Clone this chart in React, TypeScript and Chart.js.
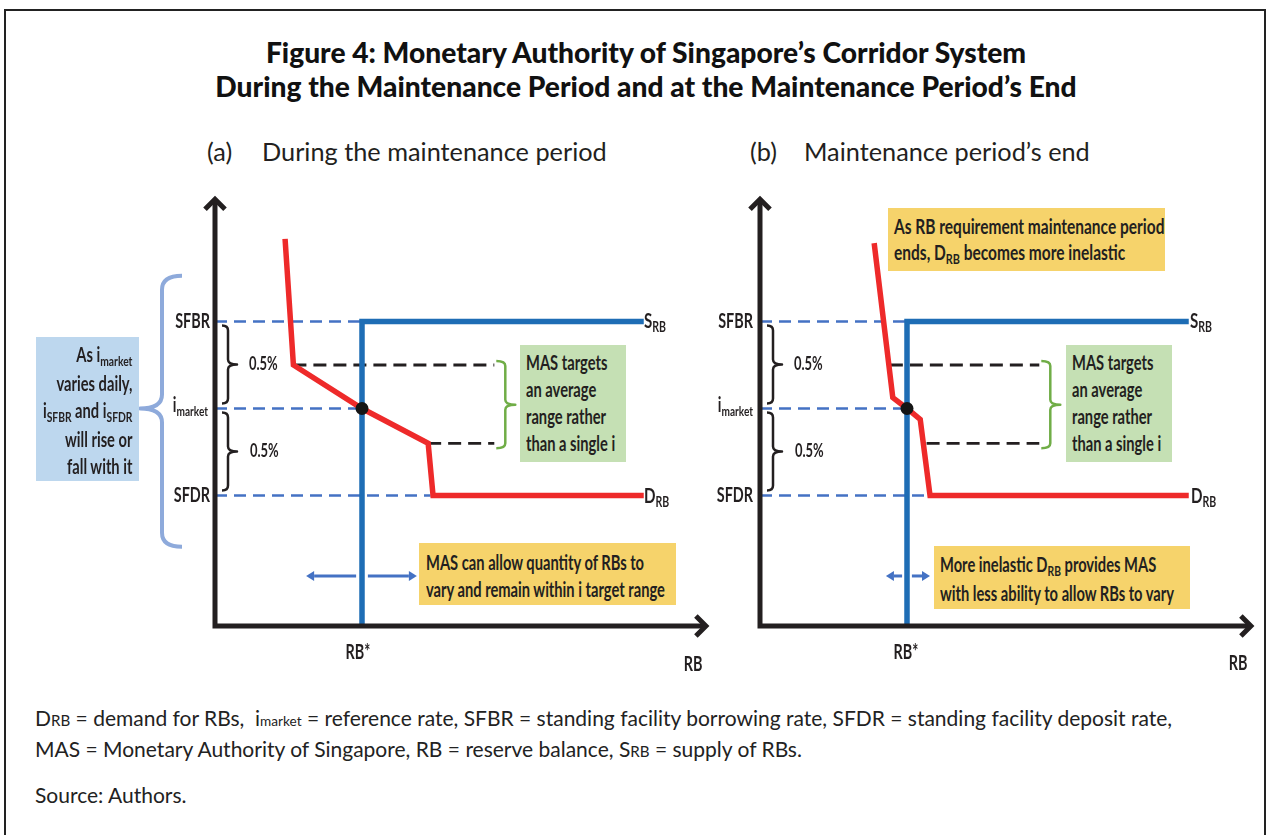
import React, { useEffect, useRef } from "react";
import { Chart, registerables } from "chart.js";
Chart.register(...registerables);

// ---------- data (diagram units: RB quantity 0..100, interest rate 0..100) ----------
const xLimits = [0, 100];
const yLimits = [0, 100];
const rateLabels = ["SFBR", "imarket", "SFDR"];
const rateValues = [70, 50, 30];
const targetBand = [60, 42];
const rbStar = 30;
const supplyX = [30, 30, 87.5];
const supplyY = [0, 70, 70];
const demandDuringX = [14.3, 16, 30, 43.5, 44.5, 87.5];
const demandDuringY = [89, 60, 50, 42, 30, 30];
const demandEndX = [23.3, 27.1, 30, 32.7, 34.7, 87.5];
const demandEndY = [88, 52.5, 50, 47.5, 30, 30];
const targetStartDuring = [16, 43.5];
const targetStartEnd = [26.5, 34];
const targetEndX = 57;
const rateDashEndDuring = [30, 30, 44];
const rateDashEndEnd = [30, 30, 34.7];
const rbArrowY = 11.5;
const rbArrowsDuring = [18.6, 28.8, 31.2, 41.2];
const rbArrowsEnd = [25.7, 29, 31, 34.7];
const imarketSwing = [80.5, 18.2];

// ---------- style ----------
const INK = "#231f20";
const RED = "#ee2a2a";
const BLUE = "#1e6db5";
const DASHBLUE = "#4472c4";
const LATO = 'Lato, "Open Sans", sans-serif';
const SQ = 0.72; // horizontal squeeze imitating a condensed face
const WT = 700;

function brace(ctx: CanvasRenderingContext2D, x0: number, xm: number, x1: number, yT: number, yM: number, yB: number, r: number) {
  ctx.beginPath();
  ctx.moveTo(x0, yT);
  ctx.quadraticCurveTo(xm, yT, xm, yT + r);
  ctx.lineTo(xm, yM - r);
  ctx.quadraticCurveTo(xm, yM, x1, yM);
  ctx.quadraticCurveTo(xm, yM, xm, yM + r);
  ctx.lineTo(xm, yB - r);
  ctx.quadraticCurveTo(xm, yB, x0, yB);
  ctx.stroke();
}

function arrowLine(ctx: CanvasRenderingContext2D, xs: number, xe: number, y: number) {
  const dir = Math.sign(xe - xs);
  const hl = 8;
  ctx.beginPath();
  ctx.moveTo(xs, y);
  ctx.lineTo(xe - dir * hl, y);
  ctx.stroke();
  ctx.beginPath();
  ctx.moveTo(xe, y);
  ctx.lineTo(xe - dir * hl, y - 5);
  ctx.lineTo(xe - dir * hl, y + 5);
  ctx.closePath();
  ctx.fill();
}

function decorPlugin(cfg: { arrows: number[]; leftBrace: boolean }) {
  return {
    id: "decor",
    afterDatasetsDraw(chart: any) {
      const ctx: CanvasRenderingContext2D = chart.ctx;
      const X = (v: number) => chart.scales.x.getPixelForValue(v);
      const Y = (v: number) => chart.scales.y.getPixelForValue(v);
      const ox = X(0), oy = Y(0);
      const tipY = Y(99), tipX = X(101);
      ctx.save();
      ctx.strokeStyle = INK;
      ctx.lineWidth = 5;
      ctx.lineJoin = "miter";
      ctx.lineCap = "butt";
      ctx.beginPath();
      ctx.moveTo(ox, tipY + 4);
      ctx.lineTo(ox, oy);
      ctx.lineTo(tipX - 4, oy);
      ctx.stroke();
      ctx.beginPath();
      ctx.moveTo(ox - 10, tipY + 14);
      ctx.lineTo(ox, tipY + 4);
      ctx.lineTo(ox + 10, tipY + 14);
      ctx.stroke();
      ctx.beginPath();
      ctx.moveTo(tipX - 14, oy - 10);
      ctx.lineTo(tipX - 4, oy);
      ctx.lineTo(tipX - 14, oy + 10);
      ctx.stroke();
      ctx.lineWidth = 2.5;
      ctx.lineJoin = "round";
      for (let i = 0; i < 2; i++) {
        const yT = Y(rateValues[i]) + 4;
        const yB = Y(rateValues[i + 1]) - 5;
        brace(ctx, ox + 7, ox + 13, ox + 22, yT, (yT + yB) / 2, yB, 5);
      }
      ctx.strokeStyle = "#70ad47";
      const xg = X(targetEndX) + 2;
      const gT = Y(targetBand[0]) - 4;
      const gB = Y(targetBand[1]) + 5;
      brace(ctx, xg, xg + 9, xg + 19, gT, (gT + gB) / 2, gB, 5);
      if (cfg.leftBrace) {
        ctx.strokeStyle = "#8eaadb";
        ctx.lineWidth = 4;
        brace(ctx, ox - 33, ox - 53, ox - 75, Y(imarketSwing[0]), Y(rateValues[1]), Y(imarketSwing[1]), 14);
      }
      ctx.strokeStyle = DASHBLUE;
      ctx.fillStyle = DASHBLUE;
      ctx.lineWidth = 3;
      const ay = Y(rbArrowY);
      const [a0, a1, b0, b1] = cfg.arrows.map(X);
      arrowLine(ctx, a1, a0, ay);
      arrowLine(ctx, b0, b1, ay);
      ctx.restore();
    },
  };
}

type PanelProps = {
  left: number; top: number; width: number; height: number;
  padding: { left: number; right: number; top: number; bottom: number };
  demandX: number[]; demandY: number[];
  targetStart: number[]; rateDashEnd: number[]; arrows: number[]; leftBrace: boolean;
};

function Panel(p: PanelProps) {
  const ref = useRef<HTMLCanvasElement>(null);
  useEffect(() => {
    const pts = (xs: number[], ys: number[]) => xs.map((x, i) => ({ x, y: ys[i] }));
    const datasets: any[] = [];
    datasets.push({ data: [{ x: rbStar, y: rateValues[1] }], showLine: false, pointRadius: 6.5, pointBackgroundColor: "#151515", pointBorderWidth: 0 });
    datasets.push({ data: pts(p.demandX, p.demandY), borderColor: RED, borderWidth: 5.5 });
    datasets.push({ data: pts(supplyX, supplyY), borderColor: BLUE, borderWidth: 5.5 });
    targetBand.forEach((v, i) =>
      datasets.push({ data: [{ x: p.targetStart[i], y: v }, { x: targetEndX, y: v }], borderColor: INK, borderWidth: 2.8, borderDash: [13, 7] })
    );
    rateValues.forEach((v, i) =>
      datasets.push({ data: [{ x: 0, y: v }, { x: p.rateDashEnd[i], y: v }], borderColor: DASHBLUE, borderWidth: 2.5, borderDash: [12, 7] })
    );
    const chart = new Chart(ref.current as HTMLCanvasElement, {
      type: "line",
      data: {
        datasets: datasets.map((d) => ({
          pointRadius: 0, tension: 0, fill: false, clip: false,
          borderJoinStyle: "miter", borderCapStyle: "butt", label: rateLabels[0], ...d,
        })),
      },
      options: {
        responsive: false,
        animation: false,
        events: [],
        layout: { padding: p.padding },
        plugins: { legend: { display: false }, tooltip: { enabled: false } },
        scales: {
          x: { type: "linear", min: xLimits[0], max: xLimits[1], display: false },
          y: { type: "linear", min: yLimits[0], max: yLimits[1], display: false },
        },
      } as any,
      plugins: [decorPlugin({ arrows: p.arrows, leftBrace: p.leftBrace })],
    });
    return () => chart.destroy();
  }, []);
  return (
    <canvas
      ref={ref}
      width={p.width}
      height={p.height}
      style={{ position: "absolute", left: p.left, top: p.top, width: p.width, height: p.height }}
    />
  );
}

function Tx(props: { x: number; y: number; align?: "left" | "right" | "center"; size?: number; lh?: number; weight?: number; sq?: number; children: any }) {
  const { x, y, align = "left", size = 20, lh = 24, weight = WT, sq = SQ, children } = props;
  const W = 600;
  const left = align === "left" ? x : align === "right" ? x - W : x - W / 2;
  const origin = align === "left" ? "0% 50%" : align === "right" ? "100% 50%" : "50% 50%";
  return (
    <div style={{ position: "absolute", left, top: y - lh / 2, width: W, height: lh, lineHeight: lh + "px", fontSize: size, fontFamily: LATO, fontWeight: weight, color: INK, textAlign: align, whiteSpace: "nowrap", pointerEvents: "none", transform: `scaleX(${sq})`, transformOrigin: origin }}>
      {children}
    </div>
  );
}

const Sub = (props: { c: string; top?: string; size?: string }) => (
  <span style={{ fontSize: props.size || "0.7em", position: "relative", top: props.top || "0.3em" }}>{props.c}</span>
);

function Box(props: { x: number; y: number; w: number; h: number; bg: string; pl?: number; pr?: number; pt?: number; lh?: number; align?: "left" | "right"; size?: number; sq?: number; children: any }) {
  const { x, y, w, h, bg, pl = 6, pr = 6, pt = 5, lh = 27, align = "left", size = 20, sq = 0.735, children } = props;
  const inner = (w - pl - pr) / sq;
  return (
    <div style={{ position: "absolute", left: x, top: y, width: w, height: h, boxSizing: "border-box", background: bg, paddingLeft: pl, paddingRight: pr, paddingTop: pt }}>
      <div style={{ width: inner, lineHeight: lh + "px", fontSize: size, fontFamily: LATO, fontWeight: WT, color: INK, textAlign: align, whiteSpace: "nowrap", transform: `scaleX(${sq})`, transformOrigin: align === "left" ? "0 0" : "100% 0", marginLeft: align === "right" ? (w - pl - pr) - inner : 0 }}>
        {children}
      </div>
    </div>
  );
}

export default function App() {
  const padA = { left: 195, right: 15, top: 11, bottom: 54 };
  const note = { fontFamily: LATO, fontSize: 21, lineHeight: "28px", color: "#222", whiteSpace: "nowrap" as const };
  return (
    <div style={{ position: "absolute", left: 0, top: 0, width: 1270, height: 835, overflow: "hidden", background: "#fff" }}>
      <div style={{ position: "absolute", left: 4, top: 9, width: 1262, height: 900, border: "2px solid #222", boxSizing: "border-box" }} />
      <div style={{ position: "absolute", left: 11, top: 35, width: 1270, textAlign: "center", fontFamily: LATO, fontWeight: 900, fontSize: 28.2, lineHeight: "34px", color: "#111" }}>
        Figure 4: Monetary Authority of Singapore’s Corridor System<br />
        During the Maintenance Period and at the Maintenance Period’s End
      </div>
      <Tx x={207} y={151} size={25.3} lh={30} sq={1} weight={400}>(a)</Tx>
      <Tx x={262} y={151} size={25.3} lh={30} sq={1} weight={400}>During the maintenance period</Tx>
      <Tx x={750} y={151} size={25.3} lh={30} sq={1} weight={400}>(b)</Tx>
      <Tx x={804} y={151} size={25.3} lh={30} sq={1} weight={400}>Maintenance period’s end</Tx>

      <Panel left={20} top={180} width={700} height={500} padding={padA}
        demandX={demandDuringX} demandY={demandDuringY} targetStart={targetStartDuring}
        rateDashEnd={rateDashEndDuring} arrows={rbArrowsDuring} leftBrace={true} />
      <Panel left={565} top={180} width={700} height={500} padding={padA}
        demandX={demandEndX} demandY={demandEndY} targetStart={targetStartEnd}
        rateDashEnd={rateDashEndEnd} arrows={rbArrowsEnd} leftBrace={false} />

      {/* panel (a) labels */}
      <Tx x={210} y={320} align="right">SFBR</Tx>
      <Tx x={208} y={404} align="right">i<Sub c="market" /></Tx>
      <Tx x={210} y={494} align="right">SFDR</Tx>
      <Tx x={249} y={363} size={18}>0.5%</Tx>
      <Tx x={250} y={450} size={18}>0.5%</Tx>
      <Tx x={644} y={320} size={21}>S<Sub c="RB" /></Tx>
      <Tx x={644} y={495} size={21}>D<Sub c="RB" /></Tx>
      <Tx x={358} y={651} align="center">RB*</Tx>
      <Tx x={693} y={663} align="center">RB</Tx>

      <Box x={36} y={337} w={103} h={144} bg="#bdd7ee" align="right" pr={7} pt={4}>
        As i<Sub c="market" /><br />varies daily,<br />i<Sub c="SFBR" /> and i<Sub c="SFDR" /><br />will rise or<br />fall with it
      </Box>
      <Box x={520} y={345} w={106} h={117} bg="#c5e0b4" pt={4}>
        MAS targets<br />an average<br />range rather<br />than a single i
      </Box>
      <Box x={419} y={543} w={257} h={62} bg="#f6d36b" pl={7} pt={6}>
        MAS can allow quantity of RBs to<br />vary and remain within i target range
      </Box>

      {/* panel (b) labels */}
      <Tx x={753} y={320} align="right">SFBR</Tx>
      <Tx x={753} y={404} align="right">i<Sub c="market" /></Tx>
      <Tx x={753} y={494} align="right">SFDR</Tx>
      <Tx x={794} y={363} size={18}>0.5%</Tx>
      <Tx x={795} y={450} size={18}>0.5%</Tx>
      <Tx x={1190} y={320} size={21}>S<Sub c="RB" /></Tx>
      <Tx x={1191} y={495} size={21}>D<Sub c="RB" /></Tx>
      <Tx x={906} y={651} align="center">RB*</Tx>
      <Tx x={1238} y={662} align="center">RB</Tx>

      <Box x={888} y={208} w={277} h={63} bg="#f6d36b" pt={5} lh={26} sq={0.775}>
        As RB requirement maintenance period<br />ends, D<Sub c="RB" /> becomes more inelastic
      </Box>
      <Box x={1066} y={345} w={106} h={117} bg="#c5e0b4" pt={4}>
        MAS targets<br />an average<br />range rather<br />than a single i
      </Box>
      <Box x={934} y={546} w={256} h={63} bg="#f6d36b" pt={5}>
        More inelastic D<Sub c="RB" /> provides MAS<br />with less ability to allow RBs to vary
      </Box>

      {/* notes */}
      <div style={{ position: "absolute", left: 35, top: 704, ...note }}>
        D<Sub c="RB" size="0.72em" top="0" /> = demand for RBs,&nbsp; i<Sub c="market" size="0.65em" top="0" /> = reference rate, SFBR = standing facility borrowing rate, SFDR = standing facility deposit rate,<br />
        MAS = Monetary Authority of Singapore, RB = reserve balance, S<Sub c="RB" size="0.72em" top="0" /> = supply of RBs.
      </div>
      <div style={{ position: "absolute", left: 35, top: 781, ...note }}>
        Source: Authors.
      </div>
    </div>
  );
}
